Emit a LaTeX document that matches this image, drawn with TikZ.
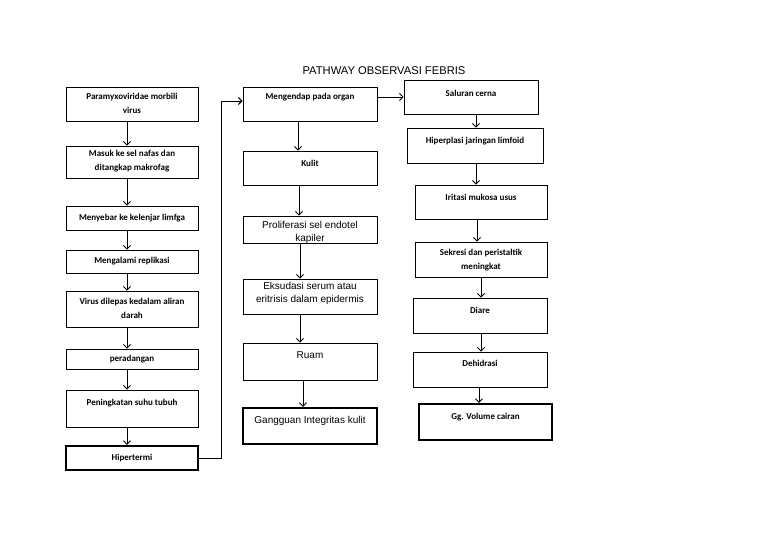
\documentclass[tikz,border=0pt]{standalone}
\usepackage{fontspec}
\setmainfont{Liberation Sans}
\newfontfamily\calfont{Carlito}
\usetikzlibrary{arrows.meta,fit}
\tikzset{
 box/.style={draw, line width=0.9pt, inner sep=0pt},
 tbox/.style={draw, line width=2.4pt, inner sep=0pt},
 lt/.style={font=\calfont\bfseries\fontsize{9}{14}\selectfont, align=center, inner sep=0pt},
 atx/.style={font=\fontsize{10}{13}\selectfont, align=center, inner sep=0pt},
 arr/.style={line width=0.8pt, -{Straight Barb[length=3.5pt,width=7pt]}},
}
\newcommand\vconn[3]{\path ([xshift=#3]#1.south) coordinate (#1-#2);\draw[arr] (#1-#2) -- (#1-#2 |- #2.north);}
\begin{document}
\begin{tikzpicture}[x=1pt,y=-1pt]
\useasboundingbox[fill=white] (0,0) rectangle (768,543);
\node[font=\fontsize{11.2}{13}\selectfont] (title) at (384,71) {PATHWAY OBSERVASI FEBRIS};
% left column
\node[box, fit={(66,87) (198,121)}] (L1) {};
\node[box, fit={(66,146) (198,178)}] (L2) {};
\node[box, fit={(66,206) (198,230)}] (L3) {};
\node[box, fit={(66,250) (198,273)}] (L4) {};
\node[box, fit={(66,291) (198,327)}] (L5) {};
\node[box, fit={(66,349) (198,369)}] (L6) {};
\node[box, fit={(66,390) (198,427)}] (L7) {};
\node[tbox, fit={(66,446) (198,470)}] (L8) {};
\node[lt] (tL1) at (132,103) {Paramyxoviridae morbili\\virus};
\node[lt] (tL2) at (132,161) {Masuk ke sel nafas dan\\ditangkap makrofag};
\node[lt] (tL3) at (132,218) {Menyebar ke kelenjar limfga};
\node[lt] (tL4) at (132,261) {Mengalami replikasi};
\node[lt] (tL5) at (132,308) {Virus dilepas kedalam aliran\\darah};
\node[lt] (tL6) at (132,359) {peradangan};
\node[lt] (tL7) at (132,403) {Peningkatan suhu tubuh};
\node[lt] (tL8) at (132,458) {Hipertermi};
% middle column
\node[box, fit={(243,87) (377,121)}] (M1) {};
\node[box, fit={(243,151) (377,185)}] (M2) {};
\node[box, fit={(243,216) (377,243)}] (M3) {};
\node[box, fit={(243,279) (377,314)}] (M4) {};
\node[box, fit={(243,343) (377,380)}] (M5) {};
\node[tbox, fit={(243,408) (377,444)}] (M6) {};
\node[lt] (tM1) at (310,97) {Mengendap pada organ};
\node[lt] (tM2) at (310,163) {Kulit};
\node[atx] (tM3) at (310,232) {Proliferasi sel endotel\\kapiler};
\node[atx] (tM4) at (310,293.5) {Eksudasi serum atau\\eritrisis dalam epidermis};
\node[atx] (tM5) at (310,355) {Ruam};
\node[atx] (tM6) at (310,421) {Gangguan Integritas kulit};
% right column
\node[box, fit={(404,80) (538,114)}] (R1) {};
\node[box, fit={(407,128) (543,163)}] (R2) {};
\node[box, fit={(415,185) (547,219)}] (R3) {};
\node[box, fit={(415,242) (547,277)}] (R4) {};
\node[box, fit={(413,298) (547,333)}] (R5) {};
\node[box, fit={(413,352) (547,387)}] (R6) {};
\node[tbox, fit={(419,404) (552,440)}] (R7) {};
\node[lt] (tR1) at (471,93) {Saluran cerna};
\node[lt] (tR2) at (475,141) {Hiperplasi jaringan limfoid};
\node[lt] (tR3) at (481,197) {Iritasi mukosa usus};
\node[lt] (tR4) at (481,260) {Sekresi dan peristaltik\\meningkat};
\node[lt] (tR5) at (480,310) {Diare};
\node[lt] (tR6) at (480,363) {Dehidrasi};
\node[lt] (tR7) at (485.5,417) {Gg. Volume cairan};
% arrows left
\vconn{L1}{L2}{-5pt}
\vconn{L2}{L3}{-5pt}
\vconn{L3}{L4}{-5pt}
\vconn{L4}{L5}{-5pt}
\vconn{L5}{L6}{-5pt}
\vconn{L6}{L7}{-5pt}
\vconn{L7}{L8}{-5pt}
% arrows middle
\vconn{M1}{M2}{-12pt}
\vconn{M2}{M3}{-11pt}
\vconn{M3}{M4}{-10pt}
\vconn{M4}{M5}{-10pt}
\vconn{M5}{M6}{-7pt}
% arrows right
\vconn{R1}{R2}{5pt}
\vconn{R2}{R3}{1pt}
\vconn{R3}{R4}{-4pt}
\vconn{R4}{R5}{0pt}
\vconn{R5}{R6}{1pt}
\vconn{R6}{R7}{-1pt}
% connectors
\coordinate (bend) at (221,0);
\path ([yshift=3pt]M1.west) coordinate (M1in);
\draw[arr, line width=1pt] (L8.east) -- (L8.east -| bend) -- (bend |- M1in) -- (M1in);
\path ([yshift=7pt]M1.east) coordinate (M1out);
\draw[arr] (M1out) -- (M1out -| R1.west);
\end{tikzpicture}
\end{document}
